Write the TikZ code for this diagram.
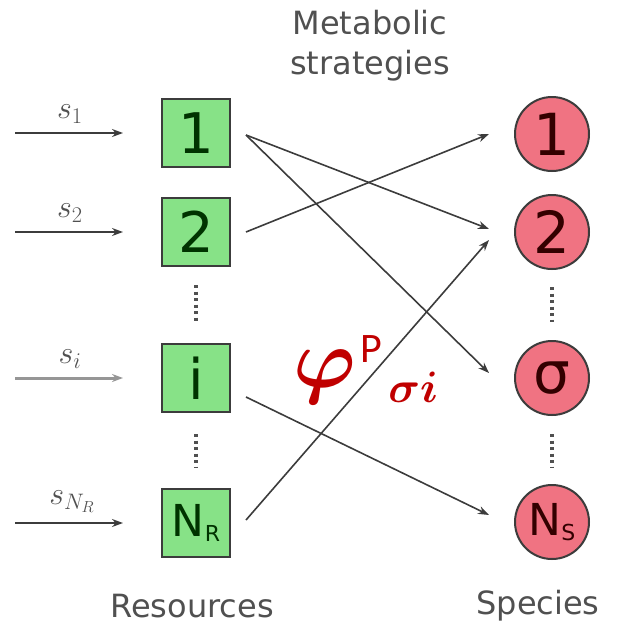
\RequirePackage{fix-cm}
\documentclass[tikz,border=0pt]{standalone}
\usepackage{fontspec}
\usepackage{amsmath,bm}
\setmainfont{DejaVu Sans}
\newfontfamily\calib{Carlito}
\usetikzlibrary{arrows.meta}
\definecolor{boxgreen}{RGB}{135,226,135}
\definecolor{spred}{RGB}{240,115,130}
\definecolor{edgegray}{RGB}{60,60,60}
\definecolor{labgray}{RGB}{80,80,80}
\definecolor{phired}{RGB}{192,0,0}
\newcommand{\phipart}{\raisebox{-6pt}{\fontsize{84}{84}\selectfont\boldmath$\varphi$}}
\newcommand{\ppart}{\hspace{4pt}\raisebox{19pt}{\calib\fontsize{42}{42}\selectfont P}}
\newcommand{\sipart}{\hspace{6pt}\raisebox{-21pt}{\fontsize{44}{44}\selectfont\boldmath$\sigma i$}}
\tikzset{
  resbox/.style={draw=edgegray, line width=2pt, fill=boxgreen, minimum width=68pt, minimum height=68pt, inner sep=0pt, text=black!80!green, font=\fontsize{56}{56}\selectfont},
  specirc/.style={circle, draw=edgegray, line width=2pt, fill=spred, minimum size=74pt, inner sep=0pt, text=black!80!red, font=\fontsize{58}{58}\selectfont},
  link/.style={draw=edgegray, line width=1.6pt, -{Stealth[length=11pt,width=8pt]}},
  inarrow/.style={draw=edgegray, line width=1.6pt, -{Stealth[length=11pt,width=8pt]}},
  vdots/.style={draw=labgray, line width=3.5pt, dash pattern=on 3pt off 3.5pt},
  caption/.style={text=labgray, font=\fontsize{32}{40}\selectfont, align=center},
  slabel/.style={text=labgray, font=\fontsize{32}{32}\selectfont}
}
\begin{document}
\begin{tikzpicture}[x=1pt,y=-1pt]
\useasboundingbox (0,0) rectangle (623,632);
% resources
\node[resbox] (b1) at (196,133) {1};
\node[resbox] (b2) at (196,232) {2};
\node[resbox] (bi) at (196,378) {i};
\node[resbox] (bn) at (196,523) {\fontsize{44}{44}\selectfont N\raisebox{-5pt}{\fontsize{22}{22}\selectfont R}};
% species
\node[specirc] (c1) at (552,134) {1};
\node[specirc] (c2) at (552,232) {2};
\node[specirc] (cs) at (552,378) {σ};
\node[specirc] (cn) at (552,522) {\fontsize{44}{44}\selectfont N\raisebox{-5pt}{\fontsize{22}{22}\selectfont S}};
% dots
\draw[vdots] (196,285) -- (196,322);
\draw[vdots] (196,434) -- (196,468);
\draw[vdots] (552,287) -- (552,322);
\draw[vdots] (552,434) -- (552,468);
% inputs
\coordinate (i1) at (15,133);
\coordinate (i2) at (15,232);
\coordinate (i3) at (15,378);
\coordinate (i4) at (15,523);
\draw[inarrow] (i1) -- ([xshift=-38pt]b1.west);
\draw[inarrow] (i2) -- ([xshift=-38pt]b2.west);
\draw[inarrow, draw=labgray!60, line width=3pt] (i3) -- ([xshift=-38pt]bi.west);
\draw[inarrow] (i4) -- ([xshift=-38pt]bn.west);
\node[slabel] (s1) at (70,114) {$s_1$};
\node[slabel] (s2) at (70,213) {$s_2$};
\node[slabel] (si) at (70,359) {$s_i$};
\node[slabel] (sn) at (72,502) {$s_{N_R}$};
% links (xshift/yshift are in page units: positive yshift moves up)
\draw[link] ([xshift=15pt,yshift=-2pt]b1.east) -- ([xshift=-25pt,yshift=3pt]c2.west);
\draw[link] ([xshift=15pt,yshift=-2pt]b1.east) -- ([xshift=-25pt,yshift=5pt]cs.west);
\draw[link] ([xshift=15pt]b2.east) -- ([xshift=-25pt]c1.west);
\draw[link] ([xshift=15pt,yshift=-19pt]bi.east) -- ([xshift=-25pt,yshift=7pt]cn.west);
\draw[link] ([xshift=15pt,yshift=3pt]bn.east) -- ([xshift=-25pt,yshift=-8pt]c2.west);
% captions
\node[caption] (meta) at (370,46) {Metabolic\\strategies};
\node[caption] (res) at (192,606) {Resources};
\node[caption] (spe) at (538,606) {Species};
% phi label
\node[text=phired, inner sep=0pt] (phi) at (366,370) {\phipart\ppart\sipart};
\end{tikzpicture}
\end{document}
